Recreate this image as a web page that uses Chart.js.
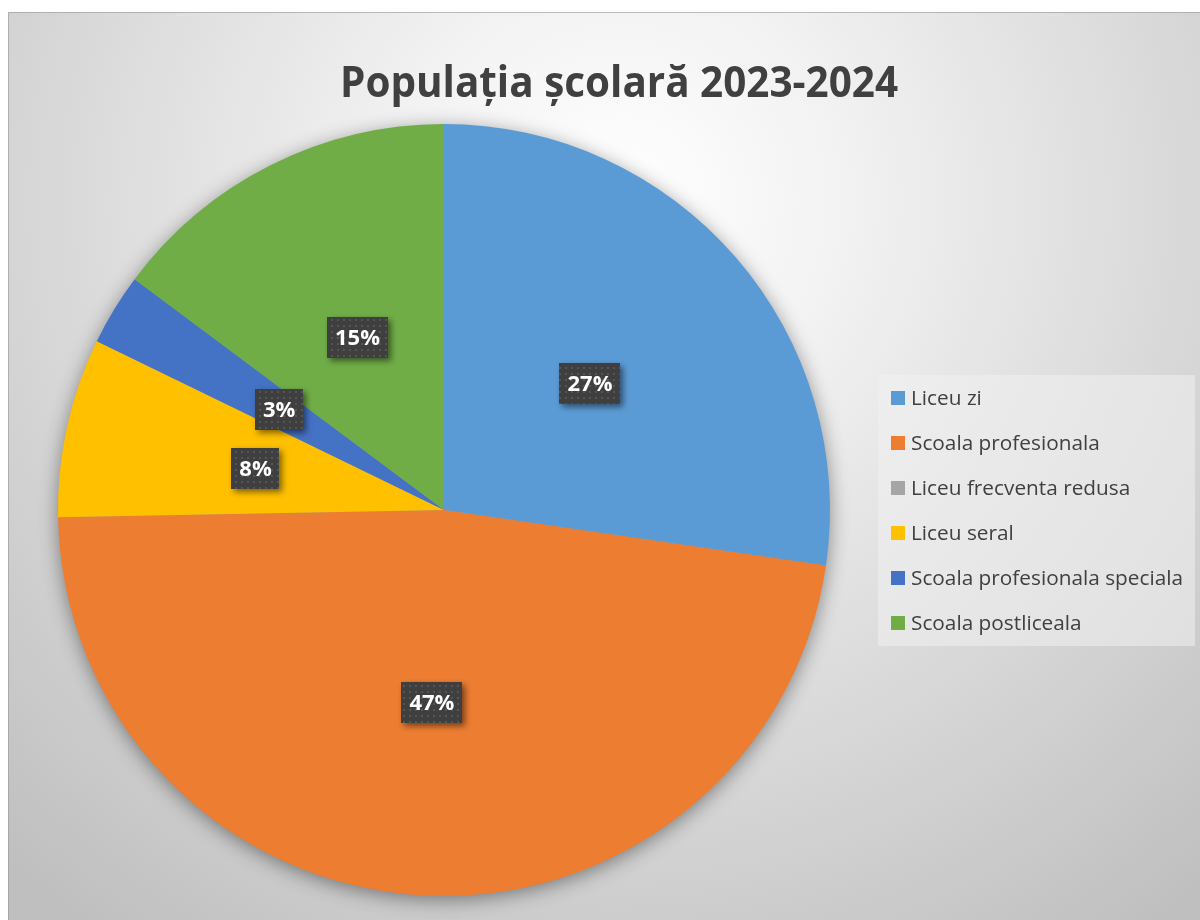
<!DOCTYPE html>
<html>
<head>
<meta charset="utf-8">
<script src="https://cdn.jsdelivr.net/npm/chart.js@4"></script>
<style>
  html, body { margin: 0; padding: 0; background: #ffffff; }
  #wrap { width: 1200px; height: 920px; }
</style>
</head>
<body>
<div id="wrap"><canvas id="pieChart" width="1200" height="920"></canvas></div>
<script>
// chart data
const chartTitle = 'Populația școlară 2023-2024';
const categories = ['Liceu zi', 'Scoala profesionala', 'Liceu frecventa redusa', 'Liceu seral', 'Scoala profesionala speciala', 'Scoala postliceala'];
const shares = [27.3, 47.4, 0, 7.5, 3.0, 14.8];
const sliceColors = ['#5B9BD5', '#ED7D31', '#A5A5A5', '#FFC000', '#4472C4', '#70AD47'];

const FONT = '"Open Sans", "Noto Sans", sans-serif';

// squeeze text horizontally so it fits a given width (Calibri is narrower than what we have)
function drawFitted(ctx, text, x, y, width, align) {
    const w = ctx.measureText(text).width;
    const sx = Math.min(1, width / w);
    ctx.save();
    ctx.translate(x, y);
    ctx.scale(sx, 1);
    ctx.textAlign = align;
    ctx.fillText(text, 0, 0);
    ctx.restore();
    return w * sx;
}

function dotPattern(ctx) {
    const p = document.createElement('canvas');
    p.width = 6; p.height = 6;
    const c = p.getContext('2d');
    c.fillStyle = '#3f3f3f';
    c.fillRect(0, 0, 6, 6);
    c.fillStyle = '#555555';
    c.fillRect(1, 1, 2, 2);
    return ctx.createPattern(p, 'repeat');
}

// background, frame and pie shadow
const backdrop = {
    id: 'backdrop',
    beforeDraw(chart) {
        const ctx = chart.ctx;
        ctx.save();
        ctx.fillStyle = '#ffffff';
        ctx.fillRect(0, 0, chart.width, chart.height);
        const g = ctx.createRadialGradient(620, 200, 0, 620, 200, 900);
        g.addColorStop(0, '#ffffff');
        g.addColorStop(0.25, '#f2f2f2');
        g.addColorStop(1, '#bfbfbf');
        ctx.fillStyle = g;
        ctx.fillRect(8, 12, chart.width - 8, chart.height - 12);
        ctx.strokeStyle = 'rgba(150,150,150,0.6)';
        ctx.lineWidth = 1;
        ctx.beginPath();
        ctx.moveTo(8.5, chart.height);
        ctx.lineTo(8.5, 12.5);
        ctx.lineTo(chart.width, 12.5);
        ctx.stroke();
        ctx.restore();
    },
    beforeDatasetsDraw(chart) {
        const arc = chart.getDatasetMeta(0).data[0];
        if (!arc) return;
        const ctx = chart.ctx;
        ctx.save();
        ctx.shadowColor = 'rgba(0,0,0,0.45)';
        ctx.shadowBlur = 20;
        ctx.shadowOffsetY = 4;
        ctx.fillStyle = '#999999';
        ctx.beginPath();
        ctx.arc(arc.x, arc.y, arc.outerRadius - 1, 0, Math.PI * 2);
        ctx.fill();
        ctx.restore();
    }
};

// percent labels in dark boxes
const sliceLabels = {
    id: 'sliceLabels',
    afterDatasetsDraw(chart) {
        const ctx = chart.ctx;
        const meta = chart.getDatasetMeta(0);
        const values = chart.data.datasets[0].data;
        const total = values.reduce((a, b) => a + b, 0);
        const fill = dotPattern(ctx);
        ctx.save();
        ctx.font = 'bold 22px ' + FONT;
        ctx.textBaseline = 'middle';
        meta.data.forEach((arc, i) => {
            if (!values[i]) return;
            const text = Math.round(values[i] / total * 100) + '%';
            const pos = arc.tooltipPosition();
            const w = ctx.measureText(text).width + 16;
            const h = 41;
            ctx.save();
            ctx.shadowColor = 'rgba(0,0,0,0.5)';
            ctx.shadowBlur = 6;
            ctx.shadowOffsetX = 3;
            ctx.shadowOffsetY = 3;
            ctx.fillStyle = fill;
            ctx.fillRect(Math.round(pos.x - w / 2), Math.round(pos.y - h / 2), Math.round(w), h);
            ctx.restore();
            ctx.fillStyle = '#ffffff';
            ctx.textAlign = 'center';
            ctx.fillText(text, pos.x, pos.y + 1);
        });
        ctx.restore();
    }
};

// title and legend drawn on top
const titleAndLegend = {
    id: 'titleAndLegend',
    afterDraw(chart) {
        const ctx = chart.ctx;
        ctx.save();
        ctx.fillStyle = '#404040';
        ctx.font = 'bold 43px ' + FONT;
        ctx.textBaseline = 'alphabetic';
        drawFitted(ctx, chartTitle, 619, 97, 558, 'center');

        // legend box
        ctx.fillStyle = 'rgba(240,240,240,0.55)';
        ctx.fillRect(878, 375, 317, 271);

        const labels = chart.data.labels;
        const colors = chart.data.datasets[0].backgroundColor;
        ctx.font = '20px ' + FONT;
        ctx.textBaseline = 'middle';
        const longest = labels.reduce((a, b) => ctx.measureText(b).width > ctx.measureText(a).width ? b : a);
        const scale = 272 / ctx.measureText(longest).width;
        labels.forEach((lab, i) => {
            const cy = 398 + i * 45;
            ctx.fillStyle = colors[i];
            ctx.fillRect(891, cy - 7, 14, 14);
            ctx.fillStyle = '#404040';
            ctx.save();
            ctx.translate(911, cy + 1);
            ctx.scale(scale, 1);
            ctx.textAlign = 'left';
            ctx.fillText(lab, 0, 0);
            ctx.restore();
        });
        ctx.restore();
    }
};

const ctx = document.getElementById('pieChart').getContext('2d');
const pieChart = new Chart(ctx, {
    type: 'pie',
    data: {
        labels: categories,
        datasets: [{
            data: shares,
            backgroundColor: sliceColors,
            borderWidth: 0,
            hoverOffset: 0,
            offset: 0
        }]
    },
    options: {
        responsive: false,
        animation: false,
        events: [],
        layout: {
            padding: { left: 58, right: 370, top: 124, bottom: 24 }
        },
        plugins: {
            legend: { display: false },
            title: { display: false },
            tooltip: { enabled: false }
        }
    },
    plugins: [backdrop, sliceLabels, titleAndLegend]
});
</script>
</body>
</html>
